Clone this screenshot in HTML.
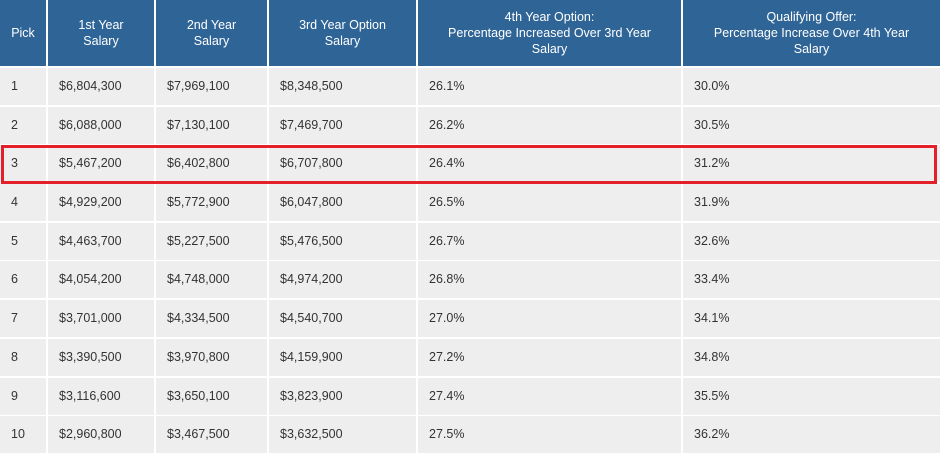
<!DOCTYPE html>
<html><head><meta charset="utf-8"><style>
html,body{margin:0;padding:0;width:940px;height:454px;overflow:hidden;background:#fff}
body{font-family:"Liberation Sans",Arial,sans-serif;font-size:12.5px;color:#333;position:relative}
.h{position:absolute;top:0;height:66px;background:#2f6497;color:#fff;display:flex;align-items:center;justify-content:center;text-align:center;line-height:16px}
.r{position:absolute;left:0;width:940px;height:37px}
.r div{position:absolute;top:0;height:37px;line-height:37px;background:#eeeeee;padding-left:11px;box-sizing:border-box}
.a{left:0;width:46px}.b{left:48px;width:106px}.c{left:156px;width:111px}.d{left:269px;width:147px}.e{left:418px;width:263px}.f{left:683px;width:257px}
.red{position:absolute;left:1px;top:145px;width:936px;height:39px;border:3px solid #e3202a;box-sizing:border-box}
</style></head><body>
<div class="h a">Pick</div>
<div class="h b">1st Year<br>Salary</div>
<div class="h c">2nd Year<br>Salary</div>
<div class="h d">3rd Year Option<br>Salary</div>
<div class="h e">4th Year Option:<br>Percentage Increased Over 3rd Year<br>Salary</div>
<div class="h f">Qualifying Offer:<br>Percentage Increase Over 4th Year<br>Salary</div>

<div class="r" style="top:68px"><div class="a">1</div><div class="b">$6,804,300</div><div class="c">$7,969,100</div><div class="d">$8,348,500</div><div class="e">26.1%</div><div class="f">30.0%</div></div>
<div class="r" style="top:107px"><div class="a">2</div><div class="b">$6,088,000</div><div class="c">$7,130,100</div><div class="d">$7,469,700</div><div class="e">26.2%</div><div class="f">30.5%</div></div>
<div class="r" style="top:145px"><div class="a">3</div><div class="b">$5,467,200</div><div class="c">$6,402,800</div><div class="d">$6,707,800</div><div class="e">26.4%</div><div class="f">31.2%</div></div>
<div class="r" style="top:184px"><div class="a">4</div><div class="b">$4,929,200</div><div class="c">$5,772,900</div><div class="d">$6,047,800</div><div class="e">26.5%</div><div class="f">31.9%</div></div>
<div class="r" style="top:223px"><div class="a">5</div><div class="b">$4,463,700</div><div class="c">$5,227,500</div><div class="d">$5,476,500</div><div class="e">26.7%</div><div class="f">32.6%</div></div>
<div class="r" style="top:261px"><div class="a">6</div><div class="b">$4,054,200</div><div class="c">$4,748,000</div><div class="d">$4,974,200</div><div class="e">26.8%</div><div class="f">33.4%</div></div>
<div class="r" style="top:300px"><div class="a">7</div><div class="b">$3,701,000</div><div class="c">$4,334,500</div><div class="d">$4,540,700</div><div class="e">27.0%</div><div class="f">34.1%</div></div>
<div class="r" style="top:339px"><div class="a">8</div><div class="b">$3,390,500</div><div class="c">$3,970,800</div><div class="d">$4,159,900</div><div class="e">27.2%</div><div class="f">34.8%</div></div>
<div class="r" style="top:378px"><div class="a">9</div><div class="b">$3,116,600</div><div class="c">$3,650,100</div><div class="d">$3,823,900</div><div class="e">27.4%</div><div class="f">35.5%</div></div>
<div class="r" style="top:416px"><div class="a">10</div><div class="b">$2,960,800</div><div class="c">$3,467,500</div><div class="d">$3,632,500</div><div class="e">27.5%</div><div class="f">36.2%</div></div>

<div class="red"></div>
</body></html>
